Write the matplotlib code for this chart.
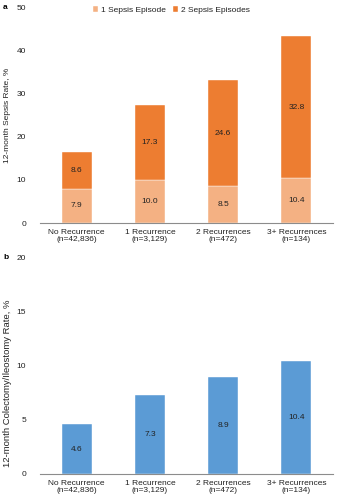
import matplotlib.pyplot as plt
import numpy as np

plt.rcParams['font.family'] = ['Liberation Sans', 'DejaVu Sans']

categories = ['No Recurrence\n(n=42,836)', '1 Recurrence\n(n=3,129)',
              '2 Recurrences\n(n=472)', '3+ Recurrences\n(n=134)']
sepsis_one = [7.9, 10.0, 8.5, 10.4]
sepsis_two = [8.6, 17.3, 24.6, 32.8]
colectomy = [4.6, 7.3, 8.9, 10.4]

c_light = '#F4B183'
c_dark = '#ED7D31'
c_blue = '#5B9BD5'
fs = 6.0

fig = plt.figure(figsize=(3.37, 5.0), dpi=100)
ax1 = fig.add_axes([0.119, 0.554, 0.869, 0.432])
ax2 = fig.add_axes([0.119, 0.052, 0.869, 0.434])

x = np.arange(len(categories))
w = 0.41


def style(ax, ymax, step):
    ax.set_xlim(-0.5, len(categories) - 0.5)
    ax.set_ylim(0, ymax)
    ax.set_yticks(np.arange(0, ymax + 1, step))
    for s in ['top', 'right', 'left']:
        ax.spines[s].set_visible(False)
    ax.spines['bottom'].set_color('#8c8c8c')
    ax.spines['bottom'].set_linewidth(0.8)
    ax.tick_params(axis='both', length=0, labelsize=fs, labelcolor='#222222')
    ax.tick_params(axis='y', pad=10)
    ax.tick_params(axis='x', pad=4)
    ax.set_xticks(x)
    ax.set_xticklabels(categories, linespacing=1.1)


# a: sepsis rate, stacked
ax1.bar(x, sepsis_one, w, color=c_light, edgecolor='white', linewidth=0.3,
        label='1 Sepsis Episode')
ax1.bar(x, sepsis_two, w, bottom=sepsis_one, color=c_dark, edgecolor='white',
        linewidth=0.3, label='2 Sepsis Episodes')
for i in range(len(x)):
    ax1.text(x[i], sepsis_one[i] / 2, f'{sepsis_one[i]:.1f}', ha='center', va='center',
             fontsize=fs, color='#222222')
    ax1.text(x[i], sepsis_one[i] + sepsis_two[i] / 2, f'{sepsis_two[i]:.1f}',
             ha='center', va='center', fontsize=fs, color='#222222')
style(ax1, 50, 10)
ax1.set_ylabel('12-month Sepsis Rate, %', fontsize=fs, color='#222222')
ax1.yaxis.set_label_coords(-0.098, 0.5)
fig.legend(loc='upper center', bbox_to_anchor=(0.508, 1.003), ncol=2, frameon=False,
           fontsize=fs, handlelength=0.7, handleheight=0.7, handletextpad=0.3,
           columnspacing=0.8, labelcolor='#222222')

# b: colectomy/ileostomy rate
ax2.bar(x, colectomy, w, color=c_blue, edgecolor='white', linewidth=0.3)
for i in range(len(x)):
    ax2.text(x[i], colectomy[i] / 2, f'{colectomy[i]:.1f}', ha='center', va='center',
             fontsize=fs, color='#222222')
style(ax2, 20, 5)
ax2.set_ylabel('12-month Colectomy/Ileostomy Rate, %', fontsize=6.8, color='#222222')
ax2.yaxis.set_label_coords(-0.096, 0.42)

fig.text(0.009, 0.985, 'a', fontsize=fs, fontweight='bold', va='center')
fig.text(0.009, 0.485, 'b', fontsize=fs, fontweight='bold', va='center')

fig.savefig('out.png', dpi=100)
